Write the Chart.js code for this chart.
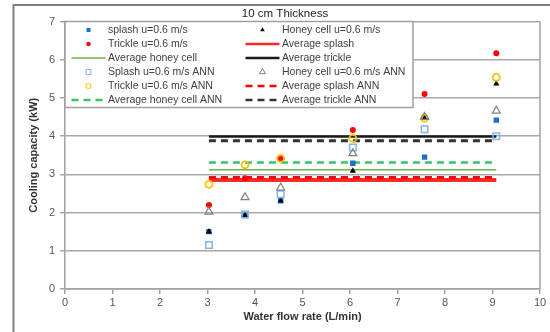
<!DOCTYPE html>
<html>
<head>
<meta charset="utf-8">
<script src="https://cdn.jsdelivr.net/npm/chart.js@4/dist/chart.umd.min.js"></script>
<style>
  html, body { margin: 0; padding: 0; background: #fff; }
  canvas { display: block; }
</style>
</head>
<body>
<canvas id="chart" width="550" height="332"></canvas>
<script>
// Water flow rates (L/min) at which the pads were tested
const flowRates = [3.03, 3.79, 4.54, 6.06, 7.57, 9.08];

// Measured cooling capacity (kW), air velocity 0.6 m/s
const splash    = [1.50, 1.92, 2.31, 3.29, 3.45, 4.42];
const trickle   = [2.20, 2.90, 3.40, 4.16, 5.10, 6.17];
const honeyCell = [1.50, 1.92, 2.31, 3.09, 4.47, 5.37];

// ANN predictions (kW)
const splashANN    = [1.15, 1.95, 2.48, 3.70, 4.18, 4.00];
const trickleANN   = [2.74, 3.25, 3.42, 3.94, 4.47, 5.54];
const honeyCellANN = [2.02, 2.40, 2.65, 3.55, 4.50, 4.66];

// Average levels (kW), drawn across the tested flow range
const averageRange     = [3.03, 9.08];
const avgSplash        = 2.85;
const avgTrickle       = 3.99;
const avgHoneyCell     = 3.12;
const avgSplashANN     = 2.92;
const avgTrickleANN    = 3.88;
const avgHoneyCellANN  = 3.31;

// Axis ranges
const xRange = [0, 10];
const yRange = [0, 7];

const points = ys => flowRates.map((x, i) => ({ x, y: ys[i] }));
const level = v => averageRange.map(x => ({ x, y: v }));

Chart.defaults.font.family = '"Liberation Sans", Arial, sans-serif';
Chart.defaults.animation = false;

const markerSet = (label, data, style, fill, stroke, radius, bw, order) => ({
  label, data, order,
  pointStyle: style,
  backgroundColor: fill,
  borderColor: stroke,
  pointRadius: radius,
  pointBorderWidth: bw,
  borderWidth: bw,
  showLine: false
});

const lineSet = (label, value, color, width, dash, order) => ({
  label, data: level(value), order,
  showLine: true,
  borderColor: color,
  backgroundColor: color,
  borderWidth: width,
  borderDash: dash,
  pointRadius: 0,
  fill: false
});

// Listed row by row, two entries per legend row
const datasets = [
  markerSet('splash u=0.6 m/s', points(splash), 'rect', '#1f6fc4', '#1f6fc4', 3.8, 0, 6),
  markerSet('Honey cell u=0.6 m/s', points(honeyCell), 'triangle', '#000000', '#000000', 3.6, 0, 4),
  markerSet('Trickle u=0.6 m/s', points(trickle), 'circle', '#ff0000', '#ff0000', 3, 0, 5),
  lineSet('Average splash', avgSplash, '#ff2a2a', 4, [], 12),
  lineSet('Average honey cell', avgHoneyCell, '#6db33f', 1.5, [], 11),
  lineSet('Average trickle', avgTrickle, '#1a1a1a', 2.5, [], 10),
  markerSet('Splash u=0.6 m/s ANN', points(splashANN), 'rect', 'rgba(255,255,255,0)', '#82b4ea', 4.6, 1.5, 3),
  markerSet('Honey cell u=0.6 m/s ANN', points(honeyCellANN), 'triangle', 'rgba(255,255,255,0)', '#808080', 4.6, 1.2, 1),
  markerSet('Trickle u=0.6 m/s ANN', points(trickleANN), 'circle', 'rgba(255,255,255,0)', '#ffbf00', 3.5, 1.8, 2),
  lineSet('Average splash ANN', avgSplashANN, '#ff0000', 3, [7, 5], 9),
  lineSet('Average honey cell ANN', avgHoneyCellANN, '#35c46c', 2.5, [7, 5], 8),
  lineSet('Average trickle ANN', avgTrickleANN, '#333333', 3, [7, 5], 7)
];

function drawMarker(ctx, style, x, y, r, fill, stroke, bw) {
  ctx.beginPath();
  if (style === 'rect') {
    const s = r * Math.SQRT1_2;
    ctx.rect(x - s, y - s, 2 * s, 2 * s);
  } else if (style === 'triangle') {
    const h = r * 1.5, w = r * Math.sqrt(3);
    ctx.moveTo(x, y - r);
    ctx.lineTo(x + w / 2, y - r + h);
    ctx.lineTo(x - w / 2, y - r + h);
    ctx.closePath();
  } else {
    ctx.arc(x, y, r, 0, Math.PI * 2);
  }
  ctx.fillStyle = fill;
  ctx.fill();
  if (bw > 0) {
    ctx.lineWidth = bw;
    ctx.strokeStyle = stroke;
    ctx.stroke();
  }
}

// White page, outer frame and chart title
const framePlugin = {
  id: 'frame',
  beforeDraw(chart) {
    const { ctx, width, height } = chart;
    ctx.save();
    ctx.fillStyle = '#ffffff';
    ctx.fillRect(0, 0, width, height);
    ctx.strokeStyle = '#808080';
    ctx.lineWidth = 2;
    ctx.beginPath();
    ctx.moveTo(13.5, height);
    ctx.lineTo(13.5, 5);
    ctx.lineTo(width, 5);
    ctx.stroke();
    ctx.fillStyle = '#222222';
    ctx.font = '11.5px "Liberation Sans", Arial, sans-serif';
    ctx.textAlign = 'center';
    ctx.textBaseline = 'middle';
    ctx.fillText('10 cm Thickness', 285, 14);
    ctx.restore();
  },
  afterDatasetsDraw(chart) {
    const { ctx, chartArea: a } = chart;
    ctx.save();
    ctx.strokeStyle = '#a0a0a0';
    ctx.lineWidth = 1.5;
    ctx.beginPath();
    ctx.moveTo(a.right, a.top);
    ctx.lineTo(a.right, a.bottom);
    ctx.stroke();
    ctx.restore();
  }
};

// Two-column legend box in the upper-left corner of the plot
const legendBoxPlugin = {
  id: 'legendBox',
  afterDraw(chart) {
    const { ctx, chartArea: a } = chart;
    const boxW = 348, boxH = 86;
    const rowTop = 8.5, rowStep = 14;
    const colSample = [23.5, 197.5];
    const colText = [43, 217];
    ctx.save();
    ctx.fillStyle = '#ffffff';
    ctx.fillRect(a.left, a.top, boxW, boxH);
    ctx.strokeStyle = '#a0a0a0';
    ctx.lineWidth = 1.5;
    ctx.strokeRect(a.left, a.top, boxW, boxH);
    ctx.font = '10.5px "Liberation Sans", Arial, sans-serif';
    ctx.textBaseline = 'middle';
    ctx.textAlign = 'left';
    chart.data.datasets.forEach((ds, i) => {
      const row = Math.floor(i / 2), col = i % 2;
      const cy = a.top + rowTop + row * rowStep;
      const cx = a.left + colSample[col];
      if (ds.showLine) {
        ctx.save();
        ctx.strokeStyle = ds.borderColor;
        ctx.lineWidth = Math.min(ds.borderWidth, 2.5);
        ctx.setLineDash(ds.borderDash || []);
        ctx.beginPath();
        ctx.moveTo(cx - 17, cy);
        ctx.lineTo(cx + 17, cy);
        ctx.stroke();
        ctx.restore();
      } else {
        drawMarker(ctx, ds.pointStyle, cx, cy, ds.pointRadius * 0.75,
          ds.backgroundColor, ds.borderColor, ds.pointBorderWidth ? 1 : 0);
      }
      ctx.fillStyle = '#404040';
      ctx.fillText(ds.label, a.left + colText[col], cy);
    });
    ctx.restore();
  }
};

new Chart(document.getElementById('chart'), {
  type: 'scatter',
  data: { datasets },
  options: {
    responsive: false,
    devicePixelRatio: 1,
    layout: { padding: { left: 14, right: 10, top: 21.5, bottom: 0 } },
    plugins: {
      legend: { display: false },
      tooltip: { enabled: false },
      title: { display: false }
    },
    scales: {
      x: {
        type: 'linear',
        min: xRange[0], max: xRange[1],
        ticks: { stepSize: 1, color: '#555555', font: { size: 11 }, padding: 2, maxRotation: 0 },
        grid: { drawOnChartArea: false, drawTicks: true, tickLength: 5, color: '#a0a0a0', lineWidth: 1.5 },
        border: { display: true, color: '#a0a0a0', width: 1.5 },
        title: {
          display: true, text: 'Water flow rate (L/min)', color: '#333333',
          font: { size: 11, weight: 'bold' }, padding: { top: 0, bottom: 8 }
        },
        afterFit(scale) { scale.height = 43; }
      },
      y: {
        type: 'linear',
        min: yRange[0], max: yRange[1],
        ticks: { stepSize: 1, color: '#555555', font: { size: 11 }, padding: 5 },
        grid: { color: '#a8a8a8', lineWidth: 1.5, drawTicks: true, tickLength: 5 },
        border: { display: true, color: '#a0a0a0', width: 1.5 },
        title: {
          display: true, text: 'Cooling capacity (kW)', color: '#333333',
          font: { size: 11, weight: 'bold' }, padding: { top: 13, bottom: 0 }
        },
        afterFit(scale) { scale.width = 51; }
      }
    }
  },
  plugins: [framePlugin, legendBoxPlugin]
});
</script>
</body>
</html>
